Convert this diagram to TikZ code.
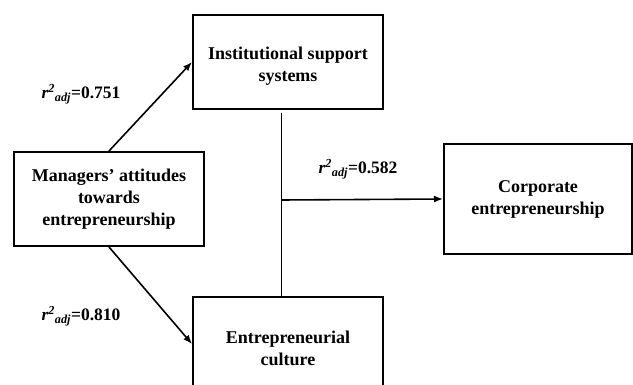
\documentclass[tikz,border=0pt]{standalone}
\usepackage{fontspec}
\setmainfont{Liberation Serif}
\usepackage{tikz}
\usetikzlibrary{arrows.meta}

\begin{document}
\begin{tikzpicture}[
x=1pt,y=-1pt,
mybox/.style={
  draw,
  line width=2pt,
  minimum width=190pt,
  minimum height=94pt,
  align=center,
  font=\fontsize{18}{22}\selectfont\bfseries
  },
lowtext/.style={text height=43pt},
mylabel/.style={
  font=\fontsize{17.5}{20}\selectfont\bfseries
  },
myarrow/.style={-{Latex[length=9pt,width=7pt]}},
every path/.append style={line width=1.6pt}
]
\useasboundingbox (0,0) rectangle (633,385);
\node[mybox] (mat) at (109,199) {Managers' attitudes\\towards\\entrepreneurship};
\node[mybox,lowtext] (iss) at (288,62) {Institutional support\\systems};
\node[mybox,lowtext] (ec) at (288,344) {Entrepreneurial\\culture};
\node[mybox,minimum width=188pt,minimum height=110pt] (ce) at (538,199) {Corporate\\entrepreneurship};
\coordinate (j) at (281.5,200);
\draw[myarrow] (mat.north) -- (iss.west);
\draw[myarrow] (mat.south) -- (ec.west);
\draw ([yshift=-3pt]j |- iss.south) -- (j |- ec.north);
\draw[myarrow] (j) -- (ce.west);
\node[mylabel] (l1) at (81,94) {\textit{r\textsuperscript{2}\textsubscript{adj}}=0.751};
\node[mylabel] (l2) at (81,316) {\textit{r\textsuperscript{2}\textsubscript{adj}}=0.810};
\node[mylabel] (l3) at (358,169) {\textit{r\textsuperscript{2}\textsubscript{adj}}=0.582};
\end{tikzpicture}
\end{document}
